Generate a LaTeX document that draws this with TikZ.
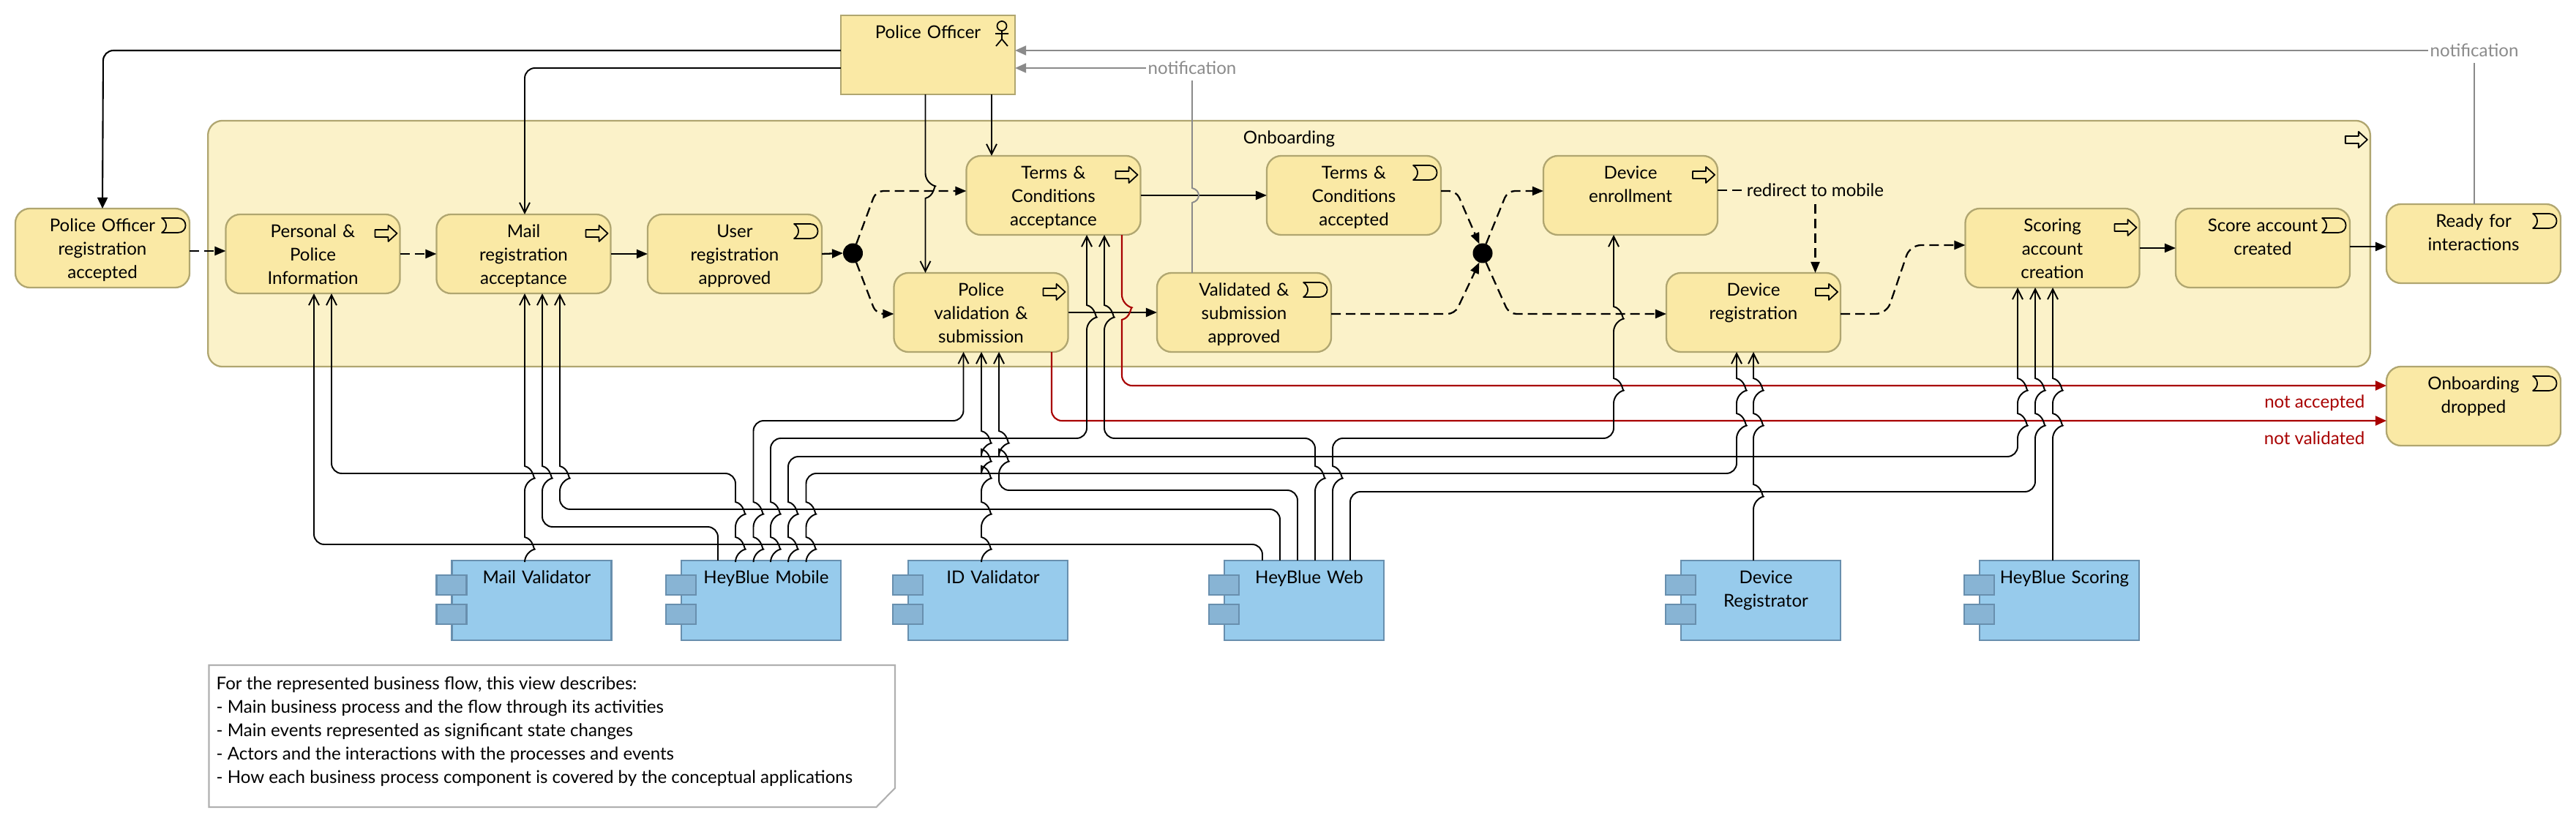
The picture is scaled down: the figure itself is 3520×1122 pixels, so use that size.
\documentclass[tikz,border=0pt]{standalone}
\usepackage{fontspec}
\setmainfont{Lato}
\usetikzlibrary{arrows.meta}

\definecolor{bizfill}{RGB}{250,233,165}
\definecolor{bizgroup}{RGB}{251,242,201}
\definecolor{bizline}{RGB}{176,166,112}
\definecolor{appfill}{RGB}{151,203,236}
\definecolor{apptab}{RGB}{136,180,212}
\definecolor{appline}{RGB}{104,143,174}
\definecolor{dropred}{RGB}{168,0,0}
\definecolor{notegrey}{RGB}{138,138,138}
\definecolor{frameGrey}{RGB}{176,176,176}

\newcommand{\boxfont}{\fontsize{6.85}{9.1}\selectfont}

\tikzset{
    elem/.style={draw=bizline, fill=bizfill, line width=.65pt, rounded corners=.2cm, outer sep=0pt,
        minimum width=2.38cm, text width=2.3cm, align=center, inner xsep=0pt, inner ysep=0pt,
        text height=.32cm, text depth=.76cm, font=\boxfont},
    comp/.style={draw=appline, fill=appfill, line width=.65pt, outer sep=0pt,
        minimum width=2.18cm, text width=2.16cm, align=center, inner xsep=0pt, inner ysep=0pt,
        text height=.32cm, text depth=.77cm, font=\boxfont},
    tabbox/.style={draw=appline, fill=apptab, line width=.65pt},
    junct/.style={circle, fill=black, minimum size=.27cm, inner sep=0pt, outer sep=0pt},
    icon/.style={draw=black, line width=.5pt, line join=round},
    flow/.style={line width=.65pt, -{Triangle[length=.15cm,width=.12cm]}},
    flowdash/.style={flow, dash pattern=on .13cm off .07cm, rounded corners=.1cm},
    plaindash/.style={line width=.65pt, dash pattern=on .13cm off .07cm},
    serve/.style={line width=.55pt, -{Straight Barb[length=.14cm,width=.14cm]}, rounded corners=.14cm},
    assign/.style={line width=.6pt, -{Triangle[length=.15cm,width=.14cm]}, rounded corners=.14cm},
    greyline/.style={draw=notegrey, line width=.55pt},
    greyarrow/.style={greyline, -{Triangle[length=.15cm,width=.13cm]}},
    greytag/.style={text=notegrey, font=\boxfont, minimum height=.34cm, inner xsep=.03cm, inner ysep=0pt, outer sep=0pt},
    droparrow/.style={draw=dropred, line width=.6pt, -{Triangle[length=.15cm,width=.13cm]}, rounded corners=.14cm},
    droptag/.style={text=dropred, font=\boxfont, anchor=east, inner sep=0pt},
    procicon/.pic={\draw[icon] (-15,-5) -- (3,-5) -- (3,-11) -- (15,0) -- (3,11) -- (3,5) -- (-15,5) -- cycle;},
    eventicon/.pic={\draw[icon] (-16,-10) -- (6,-10) .. controls (20,-10) and (20,10) .. (6,10) -- (-16,10)
        .. controls (-8,5) and (-8,-5) .. (-16,-10) -- cycle;},
}

% crossing bumps, going up or going down the page
\newcommand{\hop}[2]{-- (#1,#2+10) [sharp corners] .. controls (#1+12,#2+7) and (#1+12,#2-7) .. (#1,#2-10) [rounded corners=.14cm]}
\newcommand{\hopdown}[2]{-- (#1,#2-10) [sharp corners] .. controls (#1+12,#2-7) and (#1+12,#2+7) .. (#1,#2+10) [rounded corners=.14cm]}
\newcommand{\procmark}[1]{\pic at ([xshift=-.19cm,yshift=-.26cm]#1.north east) {procicon};}
\newcommand{\eventmark}[1]{\pic at ([xshift=-.22cm,yshift=-.23cm]#1.north east) {eventicon};}
\newcommand{\apptabs}[1]{
    \draw[tabbox] ([xshift=-.21cm,yshift=-.2cm]#1.north west) rectangle ([xshift=.2cm,yshift=-.47cm]#1.north west);
    \draw[tabbox] ([xshift=-.21cm,yshift=-.6cm]#1.north west) rectangle ([xshift=.2cm,yshift=-.87cm]#1.north west);
}
\newcommand{\ind}{\hspace*{.14cm}}

\begin{document}
\begin{tikzpicture}[x=0.01cm, y=-0.01cm]
    \useasboundingbox (0,0) rectangle (3520,1122);

    % Onboarding group
    \node[elem, fill=bizgroup, minimum width=29.53cm, text width=29cm, text depth=3.04cm] (onboard) at (1761.5,333) {Onboarding};
    \procmark{onboard}

    % Actor
    \node[elem, sharp corners] (po) at (1268,75) {Police Officer};
    \draw[icon] (1369,35.5) circle (6.5);
    \draw[icon] (1369,42) -- (1369,53.5) (1360,46) -- (1378,46) (1361,63) -- (1369,53.5) -- (1377,63);

    % Processes and events
    \node[elem] (pora) at (140,339) {Police Officer\\registration\\accepted};
    \eventmark{pora}
    \node[elem] (pers) at (427.5,347) {Personal \&\\Police\\Information};
    \procmark{pers}
    \node[elem] (mail) at (715.5,347) {Mail\\registration\\acceptance};
    \procmark{mail}
    \node[elem] (user) at (1004,347) {User\\registration\\approved};
    \eventmark{user}
    \node[elem] (termsacc) at (1439.5,267) {Terms \&\\Conditions\\acceptance};
    \procmark{termsacc}
    \node[elem] (poval) at (1340.5,427) {Police\\validation \&\\submission};
    \procmark{poval}
    \node[elem] (termsok) at (1850,267) {Terms \&\\Conditions\\accepted};
    \eventmark{termsok}
    \node[elem] (valok) at (1700,427) {Validated \&\\submission\\approved};
    \eventmark{valok}
    \node[elem] (enroll) at (2228,267) {Device\\enrollment};
    \procmark{enroll}
    \node[elem] (devreg) at (2396,427) {Device\\registration};
    \procmark{devreg}
    \node[elem] (scoring) at (2804.5,339) {Scoring\\account\\creation};
    \procmark{scoring}
    \node[elem] (scored) at (3092,339) {Score account\\created};
    \eventmark{scored}
    \node[elem] (ready) at (3380,333) {Ready for\\interactions};
    \eventmark{ready}
    \node[elem] (dropped) at (3380,555) {Onboarding\\dropped};
    \eventmark{dropped}

    % Junctions
    \node[junct] (j1) at (1165.5,346) {};
    \node[junct] (j2) at (2026,346) {};

    % Applications
    \node[comp] (mv) at (726.5,820.5) {\ind Mail Validator};
    \apptabs{mv}
    \node[comp] (hbm) at (1040,820.5) {\ind HeyBlue Mobile};
    \apptabs{hbm}
    \node[comp] (idv) at (1350,820.5) {\ind ID Validator};
    \apptabs{idv}
    \node[comp] (hbw) at (1782,820.5) {\ind HeyBlue Web};
    \apptabs{hbw}
    \node[comp] (dreg) at (2406,820.5) {\ind Device\\\ind Registrator};
    \apptabs{dreg}
    \node[comp] (hbs) at (2814,820.5) {\ind HeyBlue Scoring};
    \apptabs{hbs}

    % Labels on the connectors
    \node[greytag] (notifa) at (3381,69) {notification};
    \node[greytag] (notifb) at (1629,93) {notification};
    \node[font=\boxfont, minimum height=.38cm, inner xsep=.03cm, inner ysep=0pt, outer sep=0pt] (redir) at (2480.5,260) {redirect to mobile};
    \node[droptag] (notacc) at (3232,551) {not accepted};
    \node[droptag] (notval) at (3232,599) {not validated};

    % Flow
    \draw[flowdash] (pora.east |- 0,343) -- (pers.west |- 0,343);
    \draw[flowdash] (pers.east) -- (mail.west);
    \draw[flow] (mail.east) -- (user.west);
    \draw[flow] (user.east) -- (j1.west);
    \draw[flowdash] (j1.70) -- (1197,261) -- (termsacc.west |- 0,261);
    \draw[flowdash] (j1.-70) -- (1197,429) -- (poval.west |- 0,429);
    \draw[flow] (termsacc.east) -- (termsok.west);
    \draw[flow] (poval.east) -- (valok.west);
    \draw[flowdash] (termsok.east |- 0,261) -- (1990,261) -- (j2.110);
    \draw[flowdash] (valok.east |- 0,429) -- (1988,429) -- (j2.-110);
    \draw[flowdash] (j2.70) -- (2060,261) -- (enroll.west |- 0,261);
    \draw[flowdash] (j2.-70) -- (2062,429) -- (devreg.west |- 0,429);
    \draw[plaindash] (enroll.east |- 0,260) -- (redir.west);
    \draw[flowdash] (redir.south) -- (redir |- devreg.north);
    \draw[flowdash, rounded corners=.15cm] (devreg.east |- 0,429) -- (2578,429) -- (2610,335) -- (scoring.west |- 0,335);
    \draw[flow] (scoring.east) -- (scored.west);
    \draw[flow] (scored.east |- 0,337) -- (ready.west |- 0,337);

    % Dropped paths
    \draw[droparrow] (1533,0 |- termsacc.south) \hopdown{1533}{427} -- (1533,527) -- (dropped.west |- 0,527);
    \draw[droparrow] (1437,0 |- poval.south) -- (1437,575) -- (dropped.west |- 0,575);

    % Notifications
    \draw[greyline] (ready.north -| notifa) -- (notifa.south);
    \draw[greyarrow] (notifa.west) -- (notifa.west -| po.east);
    \draw[greyline] (1629,0 |- valok.north) \hop{1629}{267} -- (notifb.south);
    \draw[greyarrow] (notifb.west) -- (notifb.west -| po.east);

    % Actor to behaviour
    \draw[assign] (po.west |- 0,69) -- (141,69) -- (pora.north);
    \draw[serve] (po.west |- 0,93) -- (717,93) -- (717,0 |- mail.north);
    \draw[serve] (1264.5,0 |- po.south) \hopdown{1264.5}{261} -- (1264.5,0 |- poval.north);
    \draw[serve] (1355,0 |- po.south) -- (1355,0 |- termsacc.north);

    % Applications to behaviour
    \draw[serve] (717,0 |- mv.north) \hop{717}{744} \hop{717}{647} -- (717,0 |- mail.south);
    \draw[serve] (981,0 |- hbm.north) -- (981,720) -- (741,720) \hop{741}{647} -- (741,0 |- mail.south);
    \draw[serve] (1005,0 |- hbm.north) \hop{1005}{744} \hop{1005}{696} -- (1005,647) -- (453,647) -- (453,0 |- pers.south);
    \draw[serve] (1029.5,0 |- hbm.north) \hop{1029.5}{744} \hop{1029.5}{696} -- (1029.5,575) -- (1316.5,575) -- (1316.5,0 |- poval.south);
    \draw[serve] (1053,0 |- hbm.north) \hop{1053}{744} \hop{1053}{696} -- (1053,599) -- (1485,599) \hop{1485}{427} -- (1485,0 |- termsacc.south);
    \draw[serve] (1077,0 |- hbm.north) \hop{1077}{744} \hop{1077}{696} -- (1077,624) -- (2757,624) \hop{2757}{575} \hop{2757}{527} -- (2757,0 |- scoring.south);
    \draw[serve] (1101.5,0 |- hbm.north) \hop{1101.5}{744} \hop{1101.5}{696} -- (1101.5,647) -- (2373,647) \hop{2373}{575} \hop{2373}{527} -- (2373,0 |- devreg.south);
    \draw[serve] (1341,0 |- idv.north) \hop{1341}{744} \hop{1341}{696} \hop{1341}{647} \hop{1341}{624} \hop{1341}{599} -- (1341,0 |- poval.south);
    \draw[serve] (1725,0 |- hbw.north) -- (1725,744) -- (429,744) -- (429,0 |- pers.south);
    \draw[serve] (1749,0 |- hbw.north) -- (1749,696) -- (765,696) \hop{765}{647} -- (765,0 |- mail.south);
    \draw[serve] (1773,0 |- hbw.north) -- (1773,670) -- (1365,670) \hop{1365}{624} \hop{1365}{599} -- (1365,0 |- poval.south);
    \draw[serve] (1797,0 |- hbw.north) \hop{1797}{647} -- (1797,599) -- (1509,599) \hop{1509}{427} -- (1509,0 |- termsacc.south);
    \draw[serve] (1821,0 |- hbw.north) \hop{1821}{647} -- (1821,599) -- (2205,599) \hop{2205}{527} \hop{2205}{429} -- (2205,0 |- enroll.south);
    \draw[serve] (1845,0 |- hbw.north) -- (1845,672) -- (2781,672) \hop{2781}{575} \hop{2781}{527} -- (2781,0 |- scoring.south);
    \draw[serve] (2396,0 |- dreg.north) \hop{2396}{672} \hop{2396}{575} \hop{2396}{527} -- (2396,0 |- devreg.south);
    \draw[serve] (2805,0 |- hbs.north) \hop{2805}{575} \hop{2805}{527} -- (2805,0 |- scoring.south);

    % View note
    \draw[draw=frameGrey, fill=white, line width=.6pt] (285.5,909) -- (1223,909) -- (1223,1077) -- (1197.5,1103) -- (285.5,1103) -- cycle;
    \node[anchor=north west, align=left, font=\boxfont, inner sep=0pt] (viewnote) at (295,924) {For the represented business flow, this view describes:\\
        - Main business process and the flow through its activities\\
        - Main events represented as significant state changes\\
        - Actors and the interactions with the processes and events\\
        - How each business process component is covered by the conceptual applications};
\end{tikzpicture}
\end{document}
